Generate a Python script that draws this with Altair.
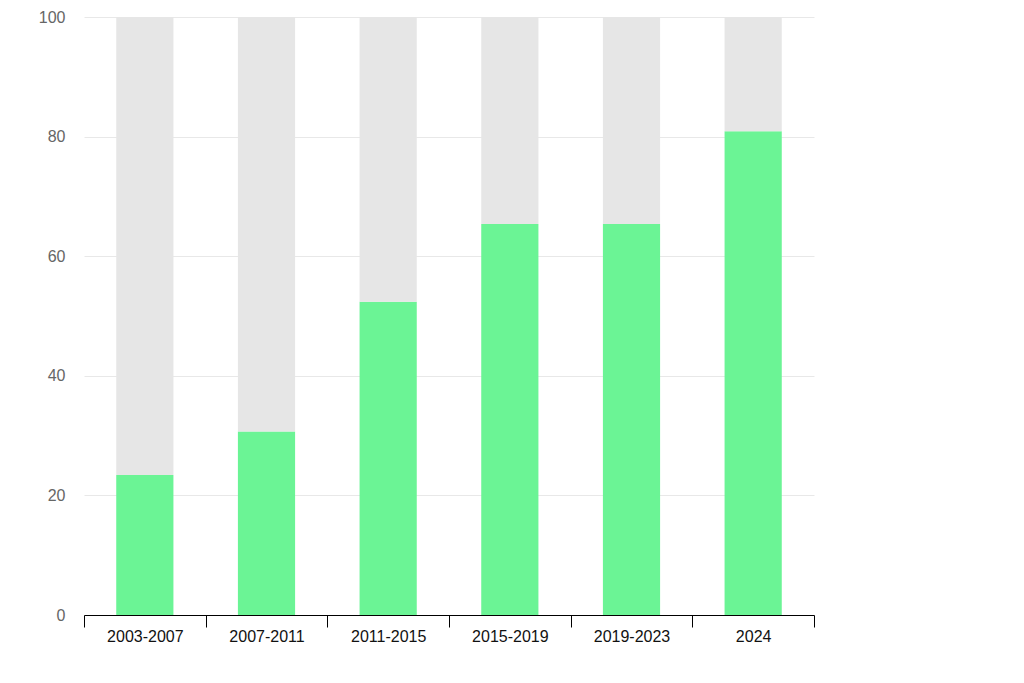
import altair as alt
import pandas as pd

periods = ["2003-2007", "2007-2011", "2011-2015", "2015-2019", "2019-2023", "2024"]
share_yes = [23.4, 30.7, 52.4, 65.4, 65.4, 80.9]
share_rest = [76.6, 69.3, 47.6, 34.6, 34.6, 19.1]

rows = []
for p, a, b in zip(periods, share_yes, share_rest):
    rows.append({"period": p, "part": "yes", "value": a, "rank": 0})
    rows.append({"period": p, "part": "rest", "value": b, "rank": 1})
df = pd.DataFrame(rows)

chart = (
    alt.Chart(df)
    .mark_bar(width=alt.RelativeBandSize(0.47))
    .encode(
        x=alt.X(
            "period:N",
            sort=periods,
            title=None,
            scale=alt.Scale(paddingInner=0, paddingOuter=0),
            axis=alt.Axis(
                labelAngle=0,
                labelColor="#111111",
                labelFontSize=16,
                labelFont="Liberation Sans",
                labelPadding=1,
                domainColor="#000000",
                tickColor="#000000",
                tickSize=12,
                tickBand="extent",
                grid=False,
            ),
        ),
        y=alt.Y(
            "value:Q",
            stack="zero",
            title=None,
            scale=alt.Scale(domain=[0, 100], nice=False),
            axis=alt.Axis(
                values=[0, 20, 40, 60, 80, 100],
                labelColor="#666666",
                labelFontSize=16,
                labelFont="Liberation Sans",
                labelPadding=19,
                domain=False,
                ticks=False,
                gridColor="#e8e8e8",
            ),
        ),
        color=alt.Color(
            "part:N",
            scale=alt.Scale(domain=["yes", "rest"], range=["#6bf495", "#e6e6e6"]),
            legend=None,
        ),
        order=alt.Order("rank:Q"),
    )
    .properties(
        width=730,
        height=598,
        autosize=alt.AutoSizeParams(type="none"),
        padding={"left": 76, "top": 9, "right": 202, "bottom": 60},
    )
    .configure_view(stroke=None)
)

chart.save("out.html", embed_options={"renderer": "svg", "actions": False})
